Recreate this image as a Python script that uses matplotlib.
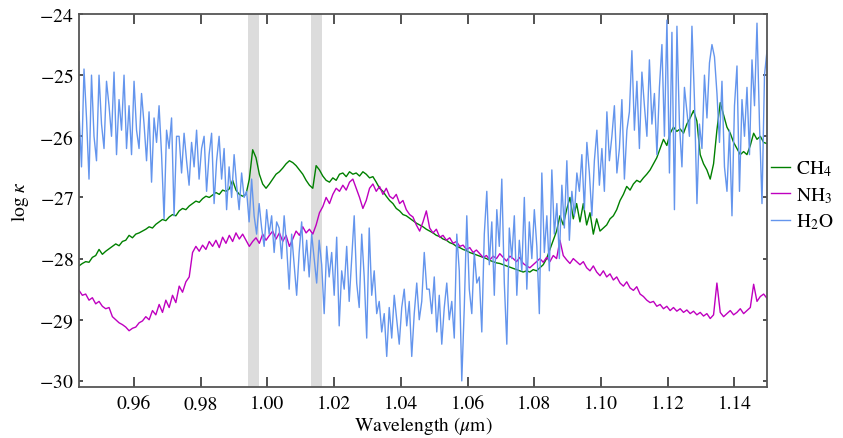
import matplotlib
matplotlib.use("Agg")
import matplotlib.pyplot as plt
import numpy as np

plt.rcParams["font.family"] = ["STIXGeneral", "DejaVu Serif"]
plt.rcParams["mathtext.fontset"] = "stix"

# wavelength range of the sampled spectra (micron)
wl_start, wl_stop = 0.9435, 1.1498

# log opacity, CH4 (one row = 0.01 micron)
ch4 = [
    -28.12, -28.08, -28.05, -28.06, -27.98, -27.95, -27.85, -27.93, -27.88, -27.84,
    -27.80, -27.76, -27.79, -27.72, -27.70, -27.62, -27.66, -27.60, -27.58, -27.55,
    -27.52, -27.48, -27.50, -27.44, -27.40, -27.36, -27.38, -27.32, -27.28, -27.30,
    -27.22, -27.18, -27.20, -27.14, -27.10, -27.06, -27.08, -27.02, -26.98, -27.00,
    -26.96, -26.92, -26.95, -26.88, -26.90, -26.86, -26.72, -26.88, -26.95, -26.98,
    -26.95, -26.70, -26.22, -26.35, -26.62, -26.78, -26.85, -26.78, -26.70, -26.62,
    -26.58, -26.52, -26.45, -26.40, -26.43, -26.48, -26.55, -26.62, -26.72, -26.80,
    -26.85, -26.48, -26.55, -26.65, -26.72, -26.75, -26.68, -26.72, -26.62, -26.60,
    -26.66, -26.58, -26.62, -26.60, -26.65, -26.58, -26.62, -26.68, -26.66, -26.75,
    -26.85, -26.90, -26.98, -27.05, -27.10, -27.18, -27.22, -27.28, -27.30, -27.34,
    -27.38, -27.42, -27.45, -27.48, -27.52, -27.55, -27.58, -27.62, -27.64, -27.68,
    -27.70, -27.74, -27.76, -27.80, -27.82, -27.85, -27.87, -27.90, -27.92, -27.94,
    -27.96, -27.98, -28.00, -28.03, -28.05, -28.07, -28.08, -28.10, -28.12, -28.14,
    -28.16, -28.18, -28.20, -28.22, -28.20, -28.22, -28.18, -28.20, -28.15, -28.10,
    -28.00, -27.85, -27.70, -27.55, -27.30, -27.45, -27.20, -27.00, -27.35, -27.10,
    -27.40, -27.10, -27.45, -27.25, -27.60, -27.35, -27.55, -27.50, -27.45, -27.35,
    -27.30, -27.20, -27.05, -26.95, -26.82, -26.88, -26.78, -26.72, -26.75, -26.68,
    -26.62, -26.55, -26.45, -26.35, -26.20, -26.05, -26.15, -25.95, -25.85, -25.92,
    -25.88, -25.95, -25.80, -25.70, -25.58, -25.75, -26.30, -26.45, -26.55, -26.70,
    -26.45, -25.90, -25.45, -25.65, -25.85, -25.95, -26.10, -26.20, -26.30, -26.25,
    -26.30, -26.15, -25.95, -26.05, -26.00, -26.10, -26.12,
]

# log opacity, NH3 (same sampling as CH4)
nh3 = [
    -28.52, -28.60, -28.58, -28.68, -28.64, -28.74, -28.70, -28.78, -28.82, -28.80,
    -28.95, -29.00, -29.05, -29.08, -29.12, -29.18, -29.14, -29.12, -29.05, -29.02,
    -28.95, -29.00, -28.85, -28.92, -28.75, -28.88, -28.68, -28.80, -28.60, -28.72,
    -28.45, -28.55, -28.38, -28.30, -27.90, -27.80, -27.88, -27.78, -27.85, -27.72,
    -27.80, -27.70, -27.82, -27.65, -27.75, -27.62, -27.72, -27.58, -27.68, -27.60,
    -27.70, -27.80, -27.72, -27.66, -27.75, -27.60, -27.70, -27.62, -27.55, -27.68,
    -27.58, -27.72, -27.62, -27.80, -27.68, -27.55, -27.62, -27.48, -27.58, -27.52,
    -27.60, -27.45, -27.25, -27.15, -27.00, -27.10, -26.95, -26.85, -26.90, -26.80,
    -26.88, -26.75, -26.70, -26.85, -27.00, -27.18, -27.05, -26.85, -26.78, -26.90,
    -26.82, -26.95, -26.85, -26.98, -27.02, -26.95, -27.10, -27.05, -27.20, -27.28,
    -27.32, -27.45, -27.55, -27.40, -27.22, -27.50, -27.58, -27.52, -27.65, -27.62,
    -27.70, -27.66, -27.75, -27.72, -27.80, -27.78, -27.85, -27.82, -27.90, -27.86,
    -27.92, -27.98, -27.95, -28.02, -27.96, -28.00, -27.92, -27.98, -28.04, -27.96,
    -28.00, -28.05, -27.98, -28.08, -28.12, -28.15, -28.10, -28.05, -28.00, -28.06,
    -27.98, -28.05, -27.95, -28.00, -27.70, -27.95, -28.02, -28.08, -28.00, -28.05,
    -28.10, -28.05, -28.15, -28.20, -28.12, -28.22, -28.28, -28.20, -28.30, -28.25,
    -28.35, -28.30, -28.40, -28.45, -28.38, -28.48, -28.52, -28.46, -28.58, -28.62,
    -28.68, -28.72, -28.70, -28.78, -28.75, -28.82, -28.78, -28.85, -28.80, -28.86,
    -28.82, -28.88, -28.84, -28.90, -28.86, -28.92, -28.88, -28.94, -28.90, -28.98,
    -28.92, -28.40, -28.88, -28.95, -28.90, -28.85, -28.92, -28.88, -28.82, -28.90,
    -28.85, -28.80, -28.42, -28.70, -28.62, -28.58, -28.65,
]

# log opacity, H2O (one row = 0.015 micron)
h2o = [
    -25.60, -26.50, -24.90, -25.70, -26.70, -25.00, -26.00, -26.40, -25.00, -25.80,
    -26.20, -25.10, -25.50, -26.00, -24.95, -26.30, -25.40, -25.90, -25.00, -26.20,
    -25.50, -26.30, -25.10, -25.90, -26.20, -25.30, -25.80, -26.40, -25.60, -26.75,
    -25.70, -26.10, -25.50, -26.30, -27.35, -25.90, -26.20, -25.70, -27.30, -26.00,
    -26.00, -26.60, -25.95, -26.40, -26.80, -26.10, -26.50, -25.90, -26.70, -26.20,
    -26.00, -26.90, -26.30, -25.95, -27.10, -26.40, -26.00, -26.70, -26.20, -27.20,
    -26.50, -27.00, -26.30, -26.80, -27.20, -26.60, -27.00, -26.90, -27.40, -26.70,
    -27.30, -27.60, -27.10, -27.50, -27.80, -27.20, -27.60, -27.30, -27.90, -27.40,
    -27.50, -28.00, -27.30, -27.80, -28.50, -27.60, -28.10, -28.60, -27.90, -27.40,
    -28.20, -27.70, -28.30, -27.60, -28.00, -28.40, -27.70, -28.10, -28.90, -27.80,
    -28.30, -27.90, -28.60, -27.65, -29.10, -28.20, -28.50, -27.80, -28.70, -28.00,
    -27.30, -28.40, -28.80, -27.60, -28.30, -29.30, -27.50, -28.60, -28.20, -28.90,
    -28.70, -29.20, -28.90, -29.60, -28.80, -29.30, -28.60, -29.00, -29.40, -28.80,
    -28.50, -29.10, -28.70, -29.60, -28.90, -28.40, -29.00, -28.70, -27.90, -28.50,
    -28.50, -28.90, -28.30, -29.20, -28.60, -29.40, -28.80, -28.40, -29.00, -28.70,
    -29.30, -27.60, -28.20, -30.00, -28.80, -27.30, -28.50, -28.90, -27.90, -28.40,
    -28.30, -29.20, -27.60, -26.90, -28.10, -27.40, -28.60, -27.20, -27.80, -26.70,
    -28.40, -29.40, -27.50, -28.00, -27.30, -28.60, -27.70, -28.20, -27.00, -28.50,
    -27.40, -28.00, -27.20, -27.80, -28.90, -26.60, -27.90, -27.30, -28.20, -26.55,
    -27.60, -27.10, -28.00, -26.80, -27.50, -26.40, -27.70, -26.90, -27.30, -26.60,
    -26.90, -26.30, -27.20, -26.10, -26.60, -27.30, -26.40, -25.90, -26.80, -26.20,
    -26.90, -25.60, -26.40, -26.00, -25.50, -26.60, -26.20, -25.40, -26.70, -25.90,
    -25.60, -24.60, -25.90, -25.10, -26.20, -24.95, -25.50, -26.00, -24.75, -25.80,
    -25.30, -26.30, -25.20, -24.50, -26.00, -24.10, -26.60, -24.30, -27.20, -24.20,
    -25.80, -26.50, -25.20, -25.60, -26.00, -24.20, -25.40, -27.10, -25.80, -26.20,
    -25.00, -25.70, -24.80, -24.50, -24.70, -25.30, -26.10, -25.10, -26.50, -26.90,
    -25.90, -27.30, -25.50, -24.85, -26.90, -25.40, -26.00, -25.20, -26.30, -24.75,
    -25.50, -24.15, -25.80, -27.10, -25.00, -24.60,
]

series_labels = ["CH$_4$", "NH$_3$", "H$_2$O"]
series_colors = ["green", "m", "cornflowerblue"]

# masked wavelength bands (micron)
bands = [(0.9942, 0.9975), (1.0131, 1.0165)]

xticks = [0.96, 0.98, 1.00, 1.02, 1.04, 1.06, 1.08, 1.10, 1.12, 1.14]
yticks = [-30, -29, -28, -27, -26, -25, -24]

fig = plt.figure(figsize=(8.43, 4.39), dpi=100)
ax = fig.add_axes([79 / 843, 1 - 388 / 439, 688 / 843, 373 / 439])

for lo, hi in bands:
    ax.axvspan(lo, hi, color="#dcdcdc", lw=0, zorder=0)

for vals, lab, col in zip([ch4, nh3, h2o], series_labels, series_colors):
    wl = np.linspace(wl_start, wl_stop, len(vals))
    ax.plot(wl, vals, color=col, lw=1.0, label=lab)

ax.set_xlim(0.9435, 1.1498)
ax.set_ylim(-30.1, -24)
ax.set_xticks(xticks)
ax.set_xticklabels([f"{t:.2f}" for t in xticks])
ax.set_yticks(yticks)
ax.set_yticklabels([f"$-${abs(t)}" for t in yticks])

ax.tick_params(axis="x", direction="in", top=True, length=7, width=1.2,
               labelsize=14, pad=6, color="#333333")
ax.tick_params(axis="y", direction="in", right=True, length=3, width=1.2,
               labelsize=14, pad=4, color="#333333")
for sp in ax.spines.values():
    sp.set_color("#555555")
    sp.set_linewidth(1.3)

ax.set_xlabel("Wavelength ($\\mu$m)", fontsize=14, labelpad=1)
ax.set_ylabel("log $\\kappa$", fontsize=14, labelpad=6)

ax.legend(loc="center left", bbox_to_anchor=(1.0, 0.515), frameon=False,
          fontsize=14, handlelength=1.0, handletextpad=0.3, labelspacing=0.35,
          borderaxespad=0.0, borderpad=0.2)

fig.savefig("out.png", dpi=100)
